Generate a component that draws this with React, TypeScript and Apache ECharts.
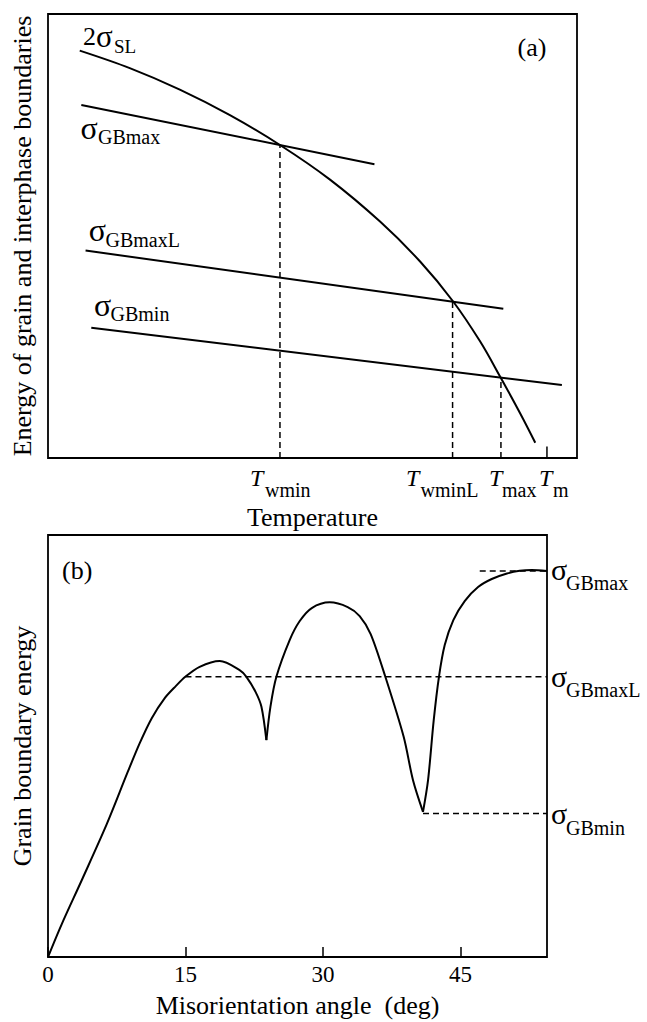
import React, { useEffect, useRef } from 'react';
import * as echarts from 'echarts';

// ---------- Panel (a): energy vs temperature (schematic, 0..100 units) ----------
const slCurve = [[6.0, 91.74], [15.46, 87.8], [24.92, 82.96], [34.39, 77.22], [43.85, 70.5], [53.31, 62.7], [62.77, 53.25], [70.34, 44.25], [76.59, 35.25], [81.7, 26.22], [85.48, 18.3], [89.27, 10.02], [92.11, 3.44]];
const gbMaxLine = [[6.3, 79.52], [61.71, 66.17]];
const gbMaxLLine = [[7.1, 46.73], [86.07, 33.6]];
const gbMinLine = [[8.18, 29.33], [97.14, 16.43]];
const tDrops = [[43.85, 70.47], [76.48, 35.19], [85.62, 18.1]];
const tMelt = [94.32, 2.61];

// ---------- Panel (b): grain boundary energy vs misorientation ----------
const arch1 = [[0, 0], [1.49, 7.75], [3.73, 18.43], [6.41, 31.47], [8.7, 43.84], [10.01, 50.68], [11.32, 56.6], [12.74, 61.35], [13.94, 64.19], [14.98, 66.4], [16.55, 68.77], [18.74, 70.12], [20.91, 67.99], [21.65, 66.4], [22.66, 62.77], [23.29, 59.28], [23.83, 51.39]];
const arch2 = [[23.83, 51.39], [24.27, 59.28], [24.92, 66.4], [26.37, 75.1], [27.47, 79.61], [28.78, 82.69], [30.74, 84.04], [32.7, 82.93], [34.01, 80.8], [35.21, 76.52], [36.81, 66.4], [38.81, 52.17], [39.83, 41.9], [40.92, 34.38]];
const arch3 = [[40.92, 34.38], [41.47, 41.9], [42.09, 56.13], [42.66, 66.4], [43.29, 73.92], [44.23, 79.84], [45.47, 84.35], [46.93, 87.67], [48.42, 89.57], [50.08, 90.87], [51.47, 91.51], [52.78, 91.7], [54.45, 91.46]];
const angleMax = 54.45;
const refGBmax = { from: 47.11, value: 91.46 };
const refGBmaxL = { from: 15, value: 66.4 };
const refGBmin = { from: 40.92, value: 34.0 };
const angleTicks = [0, 15, 30, 45];

const FONT = 'Liberation Serif, Times New Roman, serif';

function txt(text: string, x: number, y: number, size: number, italic = false, align = 'left') {
  return {
    type: 'text',
    x,
    y,
    silent: true,
    style: {
      text,
      fontSize: size,
      fontFamily: FONT,
      fontStyle: italic ? 'italic' : 'normal',
      fill: '#000',
      align,
      verticalAlign: 'middle',
    },
  };
}

export default function App() {
  const ref = useRef<HTMLDivElement>(null);
  useEffect(() => {
    document.body.style.margin = '0';
    const chart = echarts.init(ref.current!, null, { renderer: 'svg' });
    const solid = { color: '#000', width: 2 };
    const dashed = { color: '#000', width: 1.5, type: [6, 4] as any };
    const lineS = (data: number[][], idx: number, style: any, smooth: any = false) => ({
      type: 'line',
      xAxisIndex: idx,
      yAxisIndex: idx,
      data,
      symbol: 'none',
      smooth,
      lineStyle: style,
      silent: true,
    });
    const series: any[] = [
      lineS(slCurve, 0, solid, 0.35),
      lineS(gbMaxLine, 0, solid),
      lineS(gbMaxLLine, 0, solid),
      lineS(gbMinLine, 0, solid),
      ...tDrops.map((p) => lineS([[p[0], 0], [p[0], p[1]]], 0, dashed)),
      lineS([[tMelt[0], 0], [tMelt[0], tMelt[1]]], 0, { color: '#000', width: 1.5 }),
      lineS(arch1, 1, solid, 0.3),
      lineS(arch2, 1, solid, 0.3),
      lineS(arch3, 1, solid, 0.3),
      ...[refGBmax, refGBmaxL, refGBmin].map((r) => lineS([[r.from, r.value], [angleMax, r.value]], 1, dashed)),
    ];
    chart.setOption({
      animation: false,
      backgroundColor: '#fff',
      grid: [
        { left: 48, top: 14, width: 529, height: 444, show: true, borderColor: '#000', borderWidth: 1.8, backgroundColor: 'transparent' },
        { left: 48, top: 535, width: 499, height: 422, show: true, borderColor: '#000', borderWidth: 1.8, backgroundColor: 'transparent' },
      ],
      xAxis: [
        {
          gridIndex: 0, type: 'value', min: 0, max: 100,
          axisLine: { show: false }, axisTick: { show: false }, axisLabel: { show: false }, splitLine: { show: false },
          name: 'Temperature', nameLocation: 'middle', nameGap: 46,
          nameTextStyle: { fontFamily: FONT, fontSize: 26, color: '#000' },
        },
        {
          gridIndex: 1, type: 'value', min: 0, max: angleMax, interval: 15,
          axisLine: { show: false },
          axisTick: { show: true, inside: true, length: 10, lineStyle: { color: '#000', width: 1.5 } },
          axisLabel: {
            fontFamily: FONT, fontSize: 23, color: '#000', margin: 6, showMaxLabel: false,
            formatter: (v: number) => (angleTicks.includes(v) ? String(v) : ''),
          },
          splitLine: { show: false },
          name: 'Misorientation angle\u00a0 (deg)', nameLocation: 'middle', nameGap: 35,
          nameTextStyle: { fontFamily: FONT, fontSize: 26, color: '#000' },
        },
      ],
      yAxis: [
        {
          gridIndex: 0, type: 'value', min: 0, max: 100,
          axisLine: { show: false }, axisTick: { show: false }, axisLabel: { show: false }, splitLine: { show: false },
          name: 'Energy of grain and interphase boundaries', nameLocation: 'middle', nameGap: 13,
          nameTextStyle: { fontFamily: FONT, fontSize: 26, color: '#000' },
        },
        {
          gridIndex: 1, type: 'value', min: 0, max: 100,
          axisLine: { show: false }, axisTick: { show: false }, axisLabel: { show: false }, splitLine: { show: false },
          name: 'Grain boundary energy', nameLocation: 'middle', nameGap: 13,
          nameTextStyle: { fontFamily: FONT, fontSize: 26, color: '#000' },
        },
      ],
      graphic: [
        // panel (a) curve labels
        txt('2', 83, 36.2, 26), txt('σ', 96, 36.2, 31), txt('SL', 114, 46.8, 19),
        txt('σ', 80.4, 127.9, 32), txt('GBmax', 98, 136.5, 20),
        txt('σ', 88.7, 229.5, 32), txt('GBmaxL', 105.5, 239.9, 20),
        txt('σ', 94, 304.5, 32), txt('GBmin', 110.5, 313.9, 20),
        txt('(a)', 517.5, 47.5, 26),
        // temperature markers
        txt('T', 250, 478, 24, true), txt('wmin', 265, 490, 20),
        txt('T', 406, 478, 24, true), txt('wminL', 420.6, 490, 20),
        txt('T', 489, 478, 24, true), txt('max', 502, 490, 20),
        txt('T', 539, 478, 24, true), txt('m', 553, 490, 20),
        // panel (b) labels
        txt('(b)', 62, 570.5, 26),
        txt('σ', 551, 569.5, 30), txt('GBmax', 566, 583, 20),
        txt('σ', 551, 676.5, 30), txt('GBmaxL', 566, 690, 20),
        txt('σ', 551, 813, 30), txt('GBmin', 566, 828, 20),
      ],
      series,
    });
    return () => chart.dispose();
  }, []);
  return <div ref={ref} style={{ width: 647, height: 1022 }} />;
}
